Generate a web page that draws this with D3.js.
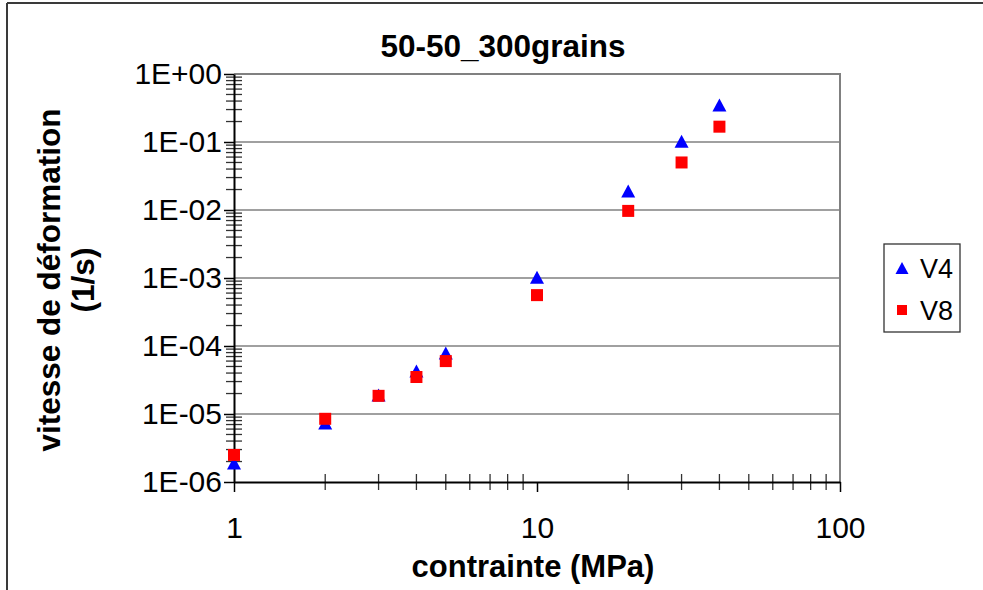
<!DOCTYPE html>
<html><head><meta charset="utf-8">
<script src="https://cdn.jsdelivr.net/npm/d3@7"></script>
<style>
body{margin:0;background:#fff;}
svg{display:block;font-family:"Liberation Sans",Arial,sans-serif;}
</style></head>
<body><svg id="c" width="983" height="590"></svg>
<script>
const titleText = "50-50_300grains";
const xTitle = "contrainte (MPa)";
const yTitleLines = ["vitesse de déformation", "(1/s)"];
const stress = [1, 2, 3, 4, 5, 10, 20, 30, 40];
const seriesNames = ["V4", "V8"];
const v4 = [1.9e-6, 7.4e-6, 1.9e-5, 4.3e-5, 7.9e-5, 1.03e-3, 1.9e-2, 0.103, 0.35];
const v8 = [2.5e-6, 8.5e-6, 1.85e-5, 3.5e-5, 6.0e-5, 5.6e-4, 9.7e-3, 0.050, 0.168];
const xTickValues = [1, 10, 100];
const xTickLabels = ["1", "10", "100"];
const yTickValues = [1e-6, 1e-5, 1e-4, 1e-3, 1e-2, 1e-1, 1];
const yTickLabels = ["1E-06", "1E-05", "1E-04", "1E-03", "1E-02", "1E-01", "1E+00"];

const svg = d3.select("#c");
const L = 234, R = 840, T = 74, B = 482;
const x = d3.scaleLog().domain([1, 100]).range([L, R]);
const y = d3.scaleLog().domain([1e-6, 1]).range([B, T]);

// outer chart border (top and left visible)
svg.append("line").attr("x1", 7).attr("x2", 983).attr("y1", 3).attr("y2", 3).attr("stroke", "#3a3a3a").attr("stroke-width", 2);
svg.append("line").attr("x1", 7).attr("x2", 7).attr("y1", 3).attr("y2", 590).attr("stroke", "#3a3a3a").attr("stroke-width", 2);

// gridlines
svg.append("g").selectAll("line").data(yTickValues.filter(v => v > 1e-6 && v < 1)).join("line")
  .attr("x1", L).attr("x2", R).attr("y1", d => y(d)).attr("y2", d => y(d))
  .attr("stroke", "#808080").attr("stroke-width", 1.3);
// plot area top/right border
svg.append("path").attr("d", `M${L},${y(1)}H${x(100)}V${y(1e-6)}`).attr("fill", "none").attr("stroke", "#808080").attr("stroke-width", 2);

// minor ticks
const yMinor = [];
for (let e = -6; e < 0; e++) for (let k = 2; k <= 9; k++) yMinor.push(k * Math.pow(10, e));
svg.append("g").selectAll("line").data(yMinor).join("line")
  .attr("x1", L - 8).attr("x2", L + 8).attr("y1", d => y(d)).attr("y2", d => y(d))
  .attr("stroke", "#333").attr("stroke-width", 1.3);
const xMinor = [];
for (let e = 0; e < 2; e++) for (let k = 2; k <= 9; k++) xMinor.push(k * Math.pow(10, e));
svg.append("g").selectAll("line").data(xMinor).join("line")
  .attr("x1", d => x(d)).attr("x2", d => x(d)).attr("y1", B - 8).attr("y2", B + 8)
  .attr("stroke", "#333").attr("stroke-width", 1.3);

// axes
const yAxis = d3.axisLeft(y).tickValues(yTickValues).tickFormat((d, i) => yTickLabels[i]).tickSize(10).tickPadding(2).tickSizeOuter(0);
const gy = svg.append("g").attr("transform", `translate(${L},0)`).call(yAxis);
const xAxis = d3.axisBottom(x).tickValues(xTickValues).tickFormat((d, i) => xTickLabels[i]).tickSize(10).tickPadding(25).tickSizeOuter(0);
const gx = svg.append("g").attr("transform", `translate(0,${B})`).call(xAxis);
[gx, gy].forEach(g => {
  g.select(".domain").attr("stroke", "#000").attr("stroke-width", 2);
  g.selectAll(".tick line").attr("stroke", "#000").attr("stroke-width", 1.5);
  g.selectAll(".tick text").attr("font-size", 30).attr("fill", "#000").attr("font-family", "Liberation Sans, Arial, sans-serif");
});

// markers
function tri(cx, cy, w, h) { return `M${cx},${cy - h / 2}L${cx + w / 2},${cy + h / 2}L${cx - w / 2},${cy + h / 2}Z`; }
svg.append("g").selectAll("path").data(stress.map((s, i) => [s, v4[i]])).join("path")
  .attr("d", d => tri(x(d[0]), y(d[1]), 14, 13)).attr("fill", "#0000ff");
svg.append("g").selectAll("rect").data(stress.map((s, i) => [s, v8[i]])).join("rect")
  .attr("x", d => x(d[0]) - 6).attr("y", d => y(d[1]) - 6).attr("width", 12).attr("height", 12).attr("fill", "#ff0000");

// titles
svg.append("text").attr("x", 503).attr("y", 57).attr("text-anchor", "middle").attr("font-weight", "bold").attr("font-size", 31.5).text(titleText);
svg.append("text").attr("x", 533).attr("y", 577).attr("text-anchor", "middle").attr("font-weight", "bold").attr("font-size", 31).text(xTitle);
const yt = svg.append("text").attr("transform", "translate(0,280) rotate(-90)").attr("text-anchor", "middle").attr("font-weight", "bold").attr("font-size", 31.5);
yt.append("tspan").attr("x", 0).attr("y", 60).text(yTitleLines[0]);
yt.append("tspan").attr("x", 0).attr("y", 94).text(yTitleLines[1]);

// legend
const lg = svg.append("g");
lg.append("rect").attr("x", 884).attr("y", 244).attr("width", 76).attr("height", 88).attr("fill", "#fff").attr("stroke", "#333").attr("stroke-width", 1.3);
lg.append("path").attr("d", tri(902, 268, 13, 12)).attr("fill", "#0000ff");
lg.append("rect").attr("x", 897).attr("y", 305).attr("width", 10).attr("height", 10).attr("fill", "#ff0000");
lg.append("text").attr("x", 920).attr("y", 278).attr("font-size", 27).text(seriesNames[0]);
lg.append("text").attr("x", 920).attr("y", 320).attr("font-size", 27).text(seriesNames[1]);
</script></body></html>
